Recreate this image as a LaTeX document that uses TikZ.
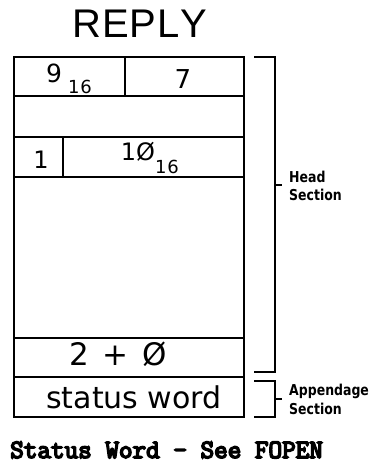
\documentclass[tikz,border=0pt]{standalone}
\usepackage{fontspec}
\setmainfont{DejaVu Sans}
\newfontfamily\titlefont{Liberation Sans}
\newfontfamily\footfont[FakeBold=6]{Latin Modern Mono}
\newcommand{\fsz}[1]{\fontsize{#1}{#1}\selectfont}
\begin{document}
\begin{tikzpicture}[x=1pt,y=-1pt,
  frame/.style={line width=1.9pt},
  brack/.style={line width=1.9pt},
  lbl/.style={inner sep=0pt,anchor=base},
  side/.style={inner sep=0pt,anchor=base west,font=\bfseries\fsz{12.5}},
]
\useasboundingbox (0,0) rectangle (368,466);
% title
\node[lbl,font=\titlefont\fsz{40}] (title) at (140,37) {R\kern1ptE\kern1ptP\kern1ptL\kern1ptY};
% box
\draw[frame] (14,57) rectangle (244,417);
\draw[frame] (14,96) -- (244,96);
\draw[frame] (14,137) -- (244,137);
\draw[frame] (14,177) -- (244,177);
\draw[frame] (14,338) -- (244,338);
\draw[frame] (14,377) -- (244,377);
\draw[frame] (125,57) -- (125,96);
\draw[frame] (63,137) -- (63,177);
% texts in box
\node[lbl,font=\fsz{25}] (nine) at (54,82) {9};
\node[lbl,font=\fsz{18}] (nsub) at (80,93) {1\kern1pt6};
\node[lbl,font=\fsz{26}] (seven) at (183,88) {7};
\node[lbl,font=\fsz{24}] (one) at (41,168) {1};
\node[lbl,font=\fsz{24}] (ten) at (138,160) {1Ø};
\node[lbl,font=\fsz{18}] (tsub) at (167,173) {1\kern1pt6};
\node[lbl,font=\fsz{31}] (two) at (118,365) {2\kern4pt{} + \kern4ptØ};
\node[lbl,font=\fsz{30}] (status) at (134,408) {status word};
% brackets
\coordinate (h1) at (254,57);
\coordinate (h2) at (275,57);
\coordinate (h3) at (275,372);
\coordinate (h4) at (254,372);
\coordinate (ht) at (275,185);
\coordinate (hte) at (282,185);
\draw[brack] (h1) -- (h2) -- (h3) -- (h4);
\draw[brack] (ht) -- (hte);
\coordinate (a1) at (254,381);
\coordinate (a2) at (275,381);
\coordinate (a3) at (275,417);
\coordinate (a4) at (254,417);
\coordinate (at1) at (275,399);
\coordinate (ate) at (282,399);
\draw[brack] (a1) -- (a2) -- (a3) -- (a4);
\draw[brack] (at1) -- (ate);
\node[side] (head) at (289,182) {\scalebox{1}[1.2]{Head}};
\node[side] (headsec) at (289,200) {\scalebox{1}[1.2]{Section}};
\node[side] (app) at (289,395) {\scalebox{1}[1.2]{Appendage}};
\node[side] (appsec) at (289,414) {\scalebox{1}[1.2]{Section}};
% footer
\node[inner sep=0pt,anchor=base west,font=\footfont\fsz{26.4}] (foot) at (10,458) {Status Word - See FOPEN};
\end{tikzpicture}
\end{document}
